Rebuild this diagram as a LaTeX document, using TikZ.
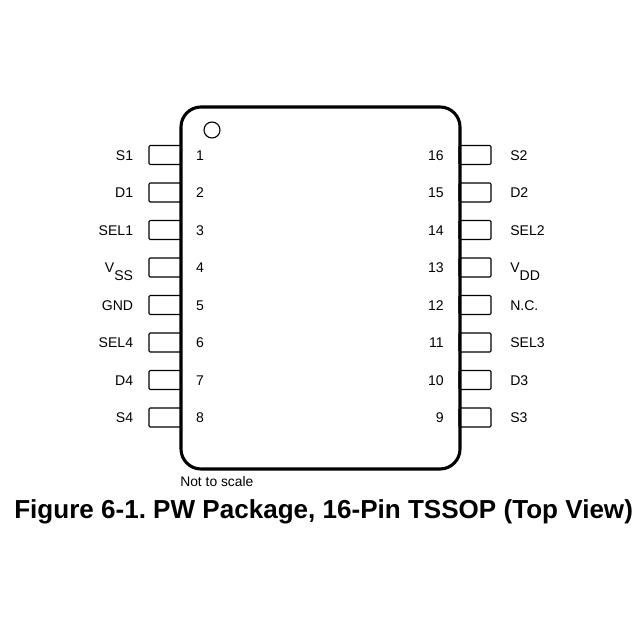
\documentclass[tikz,border=0pt]{standalone}
\usepackage{fontspec}
\setmainfont{Liberation Sans}
\tikzset{
  pinbox/.style={draw,line width=0.85pt,rounded corners=0.8pt,inner sep=0pt,minimum width=0.8cm,minimum height=0.475cm},
  pinlabel/.style={inner sep=0pt,font=\fontsize{10}{12}\selectfont},
  package/.style={draw,line width=2.2pt,rounded corners=0.5cm,inner sep=0pt,minimum width=6.975cm,minimum height=9.05cm}
}
\begin{document}
\begin{tikzpicture}
  \useasboundingbox (0cm,0cm) rectangle (16cm,16cm);
  \node[package] (PW) at (8.0125cm,8.8cm) {};
  \node[draw,circle,line width=0.8pt,minimum size=0.4cm,inner sep=0pt] (Dot) at (5.3cm,12.75cm) {};
  % pins, left side top to bottom, right side bottom to top
  \foreach \n/\name in {1/S1,2/D1,3/SEL1,4/{\raisebox{0.4pt}{V}\raisebox{-5.6pt}{SS}},5/GND,6/SEL4,7/D4,8/S4} {
    \pgfmathsetmacro{\y}{12.125-(\n-1)*0.9375}
    \node[pinbox] (P\n) at (4.125cm,\y cm) {};
    \node[pinlabel,anchor=base east] (L\n) at (3.335cm,\y cm-0.135cm) {\name};
    \node[pinlabel,anchor=base] (N\n) at (5cm,\y cm-0.135cm) {\n};
  }
  \foreach \n/\name [evaluate=\n as \m using {int(17-\n)}] in {16/S2,15/D2,14/SEL2,13/{\raisebox{0.4pt}{V}\raisebox{-5.6pt}{DD}},12/N.C.,11/SEL3,10/D3,9/S3} {
    \pgfmathsetmacro{\y}{12.125-(\m-1)*0.9375}
    \node[pinbox] (P\n) at (11.875cm,\y cm) {};
    \node[pinlabel,anchor=base west] (L\n) at (12.75cm,\y cm-0.135cm) {\name};
    \node[pinlabel,anchor=base east] (N\n) at (11.1cm,\y cm-0.135cm) {\n};
  }
  \node[pinlabel,anchor=base west,font=\fontsize{9.85}{11}\selectfont] (Scale) at (4.5cm,3.84cm) {Not to scale};
  \node[anchor=base west,inner sep=0pt,font=\fontsize{18.53}{20}\selectfont\bfseries\frenchspacing] (Caption) at (0.35cm,3.03cm) {Figure 6-1. PW Package, 16-Pin TSSOP (Top View)};
\end{tikzpicture}
\end{document}
